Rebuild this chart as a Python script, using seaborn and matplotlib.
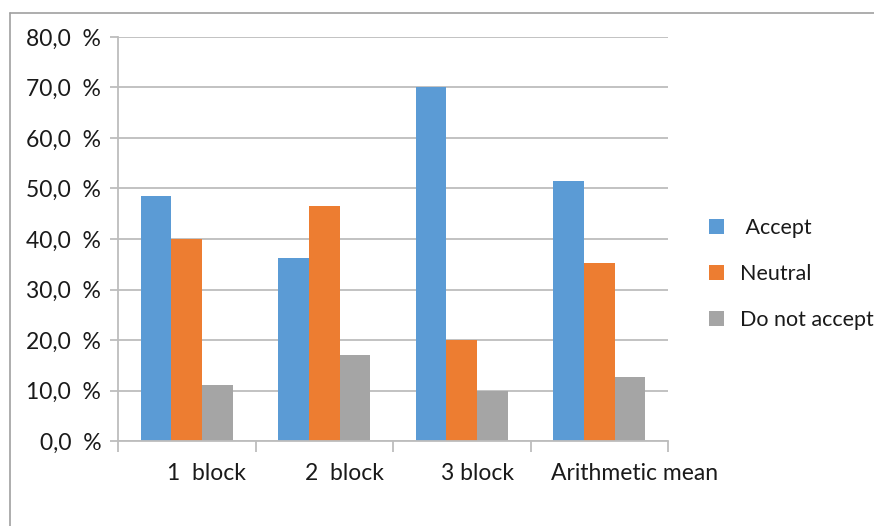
import pandas as pd
import numpy as np
import seaborn as sns
import matplotlib as mpl
import matplotlib.pyplot as plt
from matplotlib.lines import Line2D
from matplotlib.patches import Patch
from matplotlib.transforms import ScaledTranslation

categories = ["1  block", "2  block", "3 block", "Arithmetic mean"]
series = [" Accept", "Neutral", "Do not accept"]
accept = [48.5, 36.2, 70.0, 51.4]
neutral = [40.0, 46.5, 20.0, 35.3]
not_accept = [11.0, 17.0, 10.0, 12.7]
yticks = [0, 10, 20, 30, 40, 50, 60, 70, 80]
colors = ["#5B9BD5", "#ED7D31", "#A5A5A5"]

df = pd.DataFrame({
    "category": categories * 3,
    "series": [series[0]] * 4 + [series[1]] * 4 + [series[2]] * 4,
    "value": accept + neutral + not_accept,
})

sns.set_theme(style="white")
plt.rcParams['font.family'] = ['Lato', 'DejaVu Sans']

fig = plt.figure(figsize=(8.74, 5.26), dpi=100)
ax = fig.add_axes([118 / 874, 1 - 441 / 526, 550 / 874, 404 / 526])

sns.barplot(df, x="category", y="value", hue="series", palette=colors, width=0.67,
            saturation=1, ax=ax, legend=False, linewidth=0, errorbar=None)

grid_c = "#BDBDBD"
ax.set_ylim(0, 80)
ax.set_xlim(-0.5, 3.5)
ax.set_yticks(yticks)
ax.set_yticklabels([f"{v:.1f}  %".replace(".", ",") for v in yticks], fontsize=16.5, color="#1a1a1a")
ax.yaxis.grid(True, color=grid_c, linewidth=1.3)
ax.set_axisbelow(True)
ax.set_xlabel("")
ax.set_ylabel("")
for s in ["top", "right"]:
    ax.spines[s].set_visible(False)
for s in ["left", "bottom"]:
    ax.spines[s].set_color(grid_c)
    ax.spines[s].set_linewidth(1.3)
ax.tick_params(axis="y", left=True, length=6, width=1.3, color=grid_c, pad=6)
ax.set_xticks(np.arange(4))
ax.set_xticklabels(categories, fontsize=16.5, color="#1a1a1a")
ax.tick_params(axis="x", which="major", bottom=False, length=0, pad=16)
ax.set_xticks(np.arange(-0.5, 4, 1), minor=True)
ax.tick_params(axis="x", which="minor", bottom=True, length=8, width=1.3, color=grid_c)
shifts = [20, 20, 16, 35]
for lab, dx in zip(ax.get_xticklabels(), shifts):
    lab.set_transform(lab.get_transform() + ScaledTranslation(dx / 100, 0, fig.dpi_scale_trans))

# legend
handles = [Patch(facecolor=c, edgecolor="none") for c in colors]
fig.legend(handles, series, loc="center left", bbox_to_anchor=(690 / 874, 1 - 274 / 526),
           frameon=False, fontsize=15.5, handlelength=0.7, handleheight=0.7,
           handletextpad=0.7, labelspacing=1.2, labelcolor="#1a1a1a")

# outer chart frame
fig.add_artist(Line2D([10 / 874, 10 / 874], [0, 1 - 13 / 526], transform=fig.transFigure,
                      color="#A0A0A0", linewidth=1.2))
fig.add_artist(Line2D([10 / 874, 1], [1 - 13 / 526, 1 - 13 / 526], transform=fig.transFigure,
                      color="#A0A0A0", linewidth=1.2))

plt.savefig("out.png", dpi=100)
